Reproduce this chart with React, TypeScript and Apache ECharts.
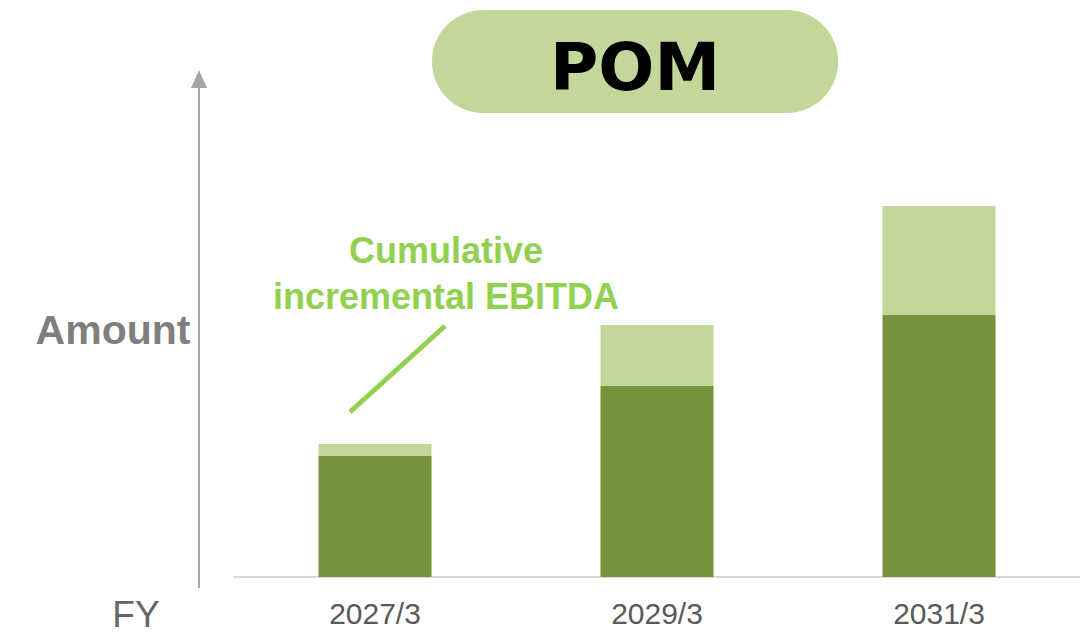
import React, { useEffect, useRef } from "react";
import * as echarts from "echarts";

const categories = ["2027/3", "2029/3", "2031/3"];
const baseValues = [24.2, 38.2, 52.4];
const incrementalEbitda = [2.4, 12.2, 21.8];
const yMax = 100;

export default function App() {
  const ref = useRef<HTMLDivElement>(null);
  useEffect(() => {
    if (!ref.current) return;
    const chart = echarts.init(ref.current, null, { renderer: "svg" });
    chart.setOption({
      animation: false,
      backgroundColor: "#ffffff",
      grid: { left: 234, right: -3, top: 77, bottom: 57, containLabel: false },
      xAxis: {
        type: "category",
        data: categories,
        axisLine: { show: true, lineStyle: { color: "#d9d9d9", width: 2 } },
        axisTick: { show: false },
        axisLabel: {
          margin: 21,
          fontSize: 30,
          color: "#595959",
          fontFamily: "Liberation Sans, Arial, sans-serif",
        },
      },
      yAxis: {
        type: "value",
        min: 0,
        max: yMax,
        show: false,
        splitLine: { show: false },
      },
      series: [
        {
          name: "Base",
          type: "bar",
          stack: "total",
          data: baseValues,
          barWidth: 113,
          itemStyle: { color: "#77933c" },
        },
        {
          name: "Cumulative incremental EBITDA",
          type: "bar",
          stack: "total",
          data: incrementalEbitda,
          barWidth: 113,
          itemStyle: { color: "#c4d79b" },
        },
      ],
      graphic: [
        {
          type: "rect",
          shape: { x: 432, y: 10, width: 406, height: 103, r: 51 },
          style: { fill: "#c4d79b" },
        },
        {
          type: "text",
          x: 635,
          y: 67,
          style: {
            text: "POM",
            fontSize: 66,
            fontWeight: "bold",
            fontFamily: "DejaVu Sans, sans-serif",
            fill: "#000000",
            align: "center",
            verticalAlign: "middle",
          },
        },
        {
          type: "line",
          shape: { x1: 199, y1: 84, x2: 199, y2: 588 },
          style: { stroke: "#a6a6a6", lineWidth: 2 },
        },
        {
          type: "polygon",
          shape: { points: [[199, 70], [191, 88], [207, 88]] },
          style: { fill: "#a6a6a6" },
        },
        {
          type: "text",
          x: 113,
          y: 330,
          style: {
            text: "Amount",
            fontSize: 41,
            fontWeight: "bold",
            fontFamily: "Liberation Sans, Arial, sans-serif",
            fill: "#7f7f7f",
            align: "center",
            verticalAlign: "middle",
          },
        },
        {
          type: "text",
          x: 136,
          y: 614,
          style: {
            text: "FY",
            fontSize: 37,
            fontFamily: "Liberation Sans, Arial, sans-serif",
            fill: "#666666",
            align: "center",
            verticalAlign: "middle",
          },
        },
        {
          type: "text",
          x: 446,
          y: 273,
          style: {
            text: "Cumulative\nincremental EBITDA",
            fontSize: 36,
            lineHeight: 46,
            fontWeight: "bold",
            fontFamily: "Liberation Sans, Arial, sans-serif",
            fill: "#92d050",
            align: "center",
            verticalAlign: "middle",
          },
        },
        {
          type: "line",
          shape: { x1: 350, y1: 412, x2: 445, y2: 326 },
          style: { stroke: "#92d050", lineWidth: 5 },
        },
      ],
    });
    return () => chart.dispose();
  }, []);
  return (
    <div
      ref={ref}
      style={{ position: "fixed", left: 0, top: 0, width: 1080, height: 634 }}
    />
  );
}
